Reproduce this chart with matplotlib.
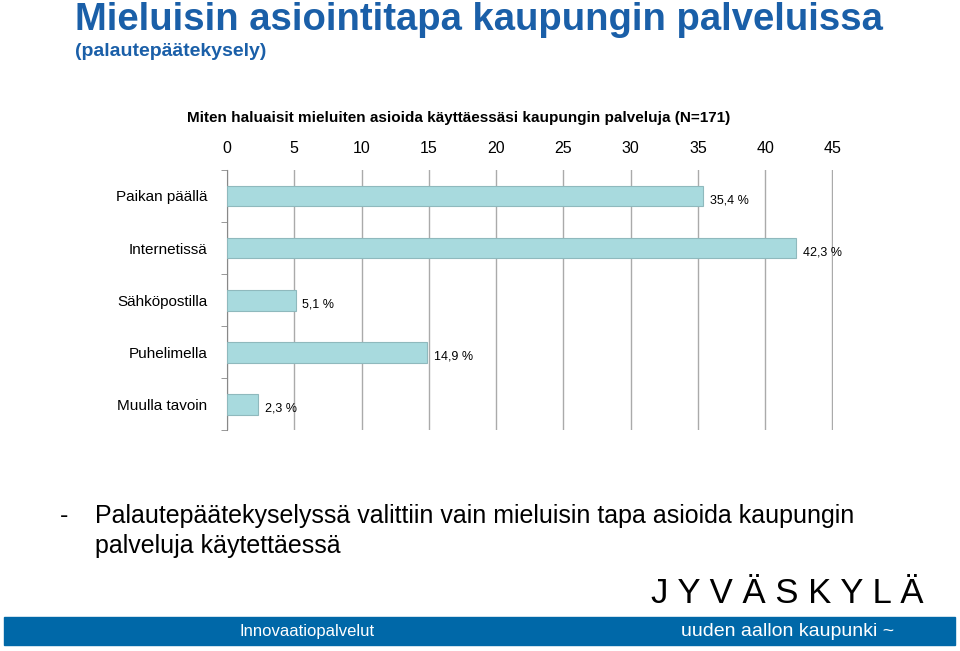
import matplotlib
matplotlib.use("Agg")
import matplotlib.pyplot as plt
from matplotlib.patches import Rectangle

plt.rcParams["font.family"] = "Liberation Sans"

categories = ["Paikan päällä", "Internetissä", "Sähköpostilla", "Puhelimella", "Muulla tavoin"]
values = [35.4, 42.3, 5.1, 14.9, 2.3]
value_labels = ["35,4 %", "42,3 %", "5,1 %", "14,9 %", "2,3 %"]
xticks = [0, 5, 10, 15, 20, 25, 30, 35, 40, 45]

fig = plt.figure(figsize=(9.6, 6.51), dpi=100)
fig.text(0.078, 0.954, "Mieluisin asiointitapa kaupungin palveluissa", color="#1a5fa8",
         fontsize=27.5, fontweight="bold", va="baseline")
fig.text(0.078, 0.921, "(palautepäätekysely)", color="#1a5fa8", fontsize=14,
         fontweight="bold", va="center")
fig.text(0.478, 0.818, "Miten haluaisit mieluiten asioida käyttäessäsi kaupungin palveluja (N=171)",
         ha="center", va="center", fontsize=11, fontweight="bold")

ax = fig.add_axes([0.2365, 0.339, 0.6313, 0.40])
y = list(range(len(categories)))
ax.barh(y, values, height=0.4, color="#a8dade", edgecolor="#8fb9bd", linewidth=0.8, zorder=3)
for yi, v, lab in zip(y, values, value_labels):
    ax.text(v + 0.5, yi + 0.08, lab, va="center", fontsize=9)
ax.set_xlim(0, 45.05)
ax.set_ylim(len(categories) - 0.5, -0.5)
ax.set_xticks(xticks)
ax.xaxis.tick_top()
ax.tick_params(axis="x", length=0, labelsize=11.5, pad=10)
ax.set_yticks(y)
ax.set_yticklabels(categories, fontsize=11)
ax.set_yticks([i + 0.5 for i in range(-1, len(categories))], minor=True)
ax.tick_params(axis="y", which="major", length=0, pad=14)
ax.tick_params(axis="y", which="minor", length=4, color="#888888")
ax.grid(axis="x", color="#aaaaaa", linewidth=1, zorder=0)
for s in ["top", "right", "bottom"]:
    ax.spines[s].set_visible(False)
ax.spines["left"].set_color("#888888")

fig.text(0.062, 0.208, "-", fontsize=18, va="center")
fig.text(0.099, 0.208, "Palautepäätekyselyssä valittiin vain mieluisin tapa asioida kaupungin",
         fontsize=18, va="center")
fig.text(0.099, 0.162, "palveluja käytettäessä", fontsize=18, va="center")

fig.patches.append(Rectangle((0.004, 0.009), 0.991, 0.043, transform=fig.transFigure,
                             color="#0068a8", zorder=0))
fig.text(0.32, 0.030, "Innovaatiopalvelut", color="white", fontsize=12, ha="center",
         va="center", fontstretch="condensed")
fig.text(0.82, 0.030, "uuden aallon kaupunki ~", color="white", fontsize=14, ha="center",
         va="center")
fig.text(0.82, 0.088, "J Y V Ä S K Y L Ä", color="black", fontsize=25, ha="center",
         va="center")

fig.savefig("out.png", dpi=100)
